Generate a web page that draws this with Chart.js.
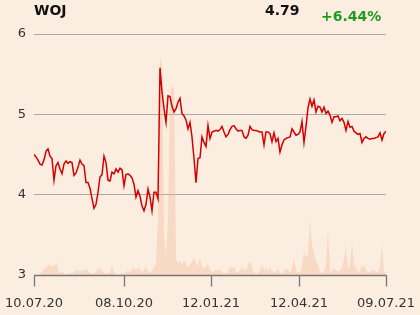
<!DOCTYPE html>
<html><head><meta charset="utf-8">
<script src="https://cdn.jsdelivr.net/npm/chart.js@4/dist/chart.umd.min.js"></script>
<style>
html,body{margin:0;padding:0;background:#fcede1;}
#wrap{position:relative;width:420px;height:315px;overflow:hidden;}
canvas{position:absolute;left:0;top:0;}
.t{position:absolute;font-family:"DejaVu Sans";font-weight:bold;white-space:nowrap;line-height:1;}
</style></head><body>
<div id="wrap">
<canvas id="c" width="420" height="315"></canvas>
<span class="t" style="left:34px;top:3px;font-size:14px;color:#111">WOJ</span>
<span class="t" style="left:265px;top:3px;font-size:14px;color:#111">4.79</span>
<span class="t" style="left:321px;top:9px;font-size:14px;color:#1e9c1e">+6.44%</span>
</div>
<script>
const symbol = "WOJ";
const tickLabels = ["10.07.20","08.10.20","12.01.21","12.04.21","09.07.21"];
const tickPos = [0, 45, 88.5, 132.5, 176];
const yTicks = [3,4,5,6];
const prices = [
4.50,4.47,4.43,4.38,4.37,4.43,4.54,4.57,4.48,4.45,
4.18,4.36,4.40,4.32,4.26,4.38,4.42,4.39,4.41,4.40,
4.24,4.27,4.34,4.43,4.38,4.36,4.15,4.15,4.08,3.95,
3.83,3.88,4.03,4.22,4.25,4.48,4.40,4.18,4.17,4.28,
4.26,4.32,4.28,4.33,4.31,4.11,4.25,4.26,4.24,4.21,
4.13,3.97,4.05,3.98,3.86,3.80,3.88,4.07,3.97,3.80,
4.03,4.03,3.95,5.58,5.28,5.07,4.90,5.23,5.22,5.10,
5.03,5.07,5.15,5.20,5.01,4.98,4.93,4.82,4.90,4.72,
4.45,4.15,4.45,4.46,4.72,4.65,4.60,4.86,4.70,4.78,
4.79,4.80,4.79,4.81,4.85,4.78,4.72,4.75,4.81,4.85,
4.86,4.82,4.79,4.80,4.80,4.72,4.70,4.74,4.85,4.81,
4.80,4.80,4.79,4.78,4.78,4.62,4.78,4.78,4.76,4.66,
4.77,4.66,4.70,4.53,4.62,4.68,4.70,4.71,4.72,4.82,
4.78,4.74,4.75,4.78,4.91,4.65,4.85,5.08,5.19,5.10,
5.18,5.03,5.10,5.09,5.03,5.09,5.01,5.04,4.99,4.90,
4.97,4.97,4.98,4.92,4.95,4.90,4.80,4.91,4.84,4.85,
4.79,4.77,4.75,4.76,4.65,4.70,4.72,4.70,4.69,4.70,
4.70,4.71,4.72,4.77,4.68,4.76,4.79
];
const volume = [
0,0,0,1,3,7,6,10,9,10,
8,13,5,2,4,1,0,1,2,1,
3,4,6,3,5,3,7,4,2,1,
1,3,7,6,4,1,2,1,3,9,
3,1,0,1,2,1,3,5,2,6,
7,5,7,6,3,5,8,3,2,4,
8,11,60,218,210,40,20,55,180,190,
185,15,12,14,10,15,12,7,10,13,
17,12,8,18,8,7,9,11,5,4,
3,6,4,6,3,1,2,3,9,7,
8,3,2,5,7,6,4,10,15,8,
3,1,2,5,11,5,8,4,7,5,
2,3,6,2,1,3,7,5,2,6,
17,4,3,3,10,24,17,20,56,31,
20,14,10,3,2,3,10,46,4,3,
7,4,4,4,7,15,29,4,10,33,
11,8,3,4,9,9,6,2,3,4,
6,3,2,10,31,4,2
];

const tickMarks = {
  id:'tickMarks',
  afterDraw(chart){
    const s = chart.scales.x, ctx = chart.ctx;
    ctx.save();
    ctx.strokeStyle = '#777'; ctx.lineWidth = 1.3;
    ctx.beginPath();
    const y0 = Math.round(chart.chartArea.bottom) + 0.5;
    ctx.moveTo(chart.chartArea.left, y0); ctx.lineTo(chart.chartArea.right, y0);
    tickPos.forEach(v => {
      const px = Math.round(s.getPixelForValue(v)) + 0.5;
      ctx.moveTo(px, y0); ctx.lineTo(px, y0 + 11);
    });
    ctx.stroke();
    ctx.restore();
  }
};

const font = {family:"DejaVu Sans", size:13};
new Chart(document.getElementById('c'), {
  data: {
    datasets: [
      {type:'line', label:symbol, data: prices.map((v,i)=>({x:i,y:v})), borderColor:'#d40000', borderWidth:1.5,
       pointRadius:0, tension:0, yAxisID:'y', order:1, fill:false},
      {type:'line', label:'Volume', data: volume.map((v,i)=>({x:i,y:v})), borderWidth:0, borderColor:'rgba(0,0,0,0)',
       backgroundColor:'rgba(240,180,140,0.35)', fill:'origin', pointRadius:0, tension:0, yAxisID:'v', order:2}
    ]
  },
  plugins:[tickMarks],
  options: {
    responsive:false, animation:false, events:[],
    layout:{padding:{top:34, right:34, left:0, bottom:0}},
    plugins:{legend:{display:false}, tooltip:{enabled:false}},
    scales:{
      x:{type:'linear', min:0, max:prices.length-1,
         afterBuildTicks: s => { s.ticks = tickPos.map(v=>({value:v})); },
         ticks:{callback:(v,i)=>tickLabels[i], maxRotation:0, autoSkip:false, color:'#333',
                font:{family:"DejaVu Sans", size:13, lineHeight:2}, padding:5},
         grid:{drawOnChartArea:false, drawTicks:true, tickLength:11, color:'#777', tickColor:'#777', tickWidth:1},
         border:{color:'#777', width:1},
         afterFit: s => { s.height = 40; }},
      y:{min:3, max:6,
         afterBuildTicks: s => { s.ticks = yTicks.map(v=>({value:v})); },
         ticks:{color:'#333', font, padding:8},
         grid:{color:'#aaa', drawTicks:false, lineWidth:1},
         border:{display:false},
         afterFit: s => { s.width = 34; }},
      v:{display:false, min:0, max:241}
    }
  }
});
</script>
</body></html>
